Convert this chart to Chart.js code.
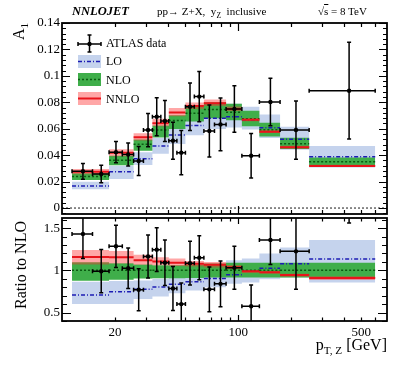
<!DOCTYPE html>
<html>
<head>
<meta charset="utf-8">
<script src="https://cdn.jsdelivr.net/npm/chart.js"></script>
<style>
    body { margin: 0; background: #fff; }
    #wrap { position: relative; width: 407px; height: 365px; font-family: 'Liberation Serif', 'Times New Roman', serif; color: #000; overflow: hidden; }
    canvas { position: absolute; left: 0; top: 0; }
    .t { position: absolute; white-space: nowrap; line-height: 1; }
    .t sub { font-size: 70%; vertical-align: -0.35em; line-height: 0; }
    .rot { transform: rotate(-90deg); transform-origin: left top; }
</style>
</head>
<body>
<div id="wrap">
    <canvas id="upper" width="407" height="365"></canvas>
    <canvas id="lower" width="407" height="365"></canvas>
    <canvas id="legendKeys" width="26" height="80" style="left:77px;top:32px;"></canvas>

    <div class="t" style="left:72px;top:5px;font-size:12.5px;font-weight:bold;font-style:italic;">NNLOJET</div>
    <div class="t" style="left:157px;top:6px;font-size:11px;">pp&#8594; Z+X,&nbsp; y<sub>Z</sub>&nbsp; inclusive</div>
    <div class="t" style="left:318px;top:6px;font-size:11px;">&#8730;<span style="text-decoration:overline">s</span> = 8 TeV</div>

    <div class="t rot" style="left:11px;top:40px;font-size:16px;">A<sub>1</sub></div>
    <div class="t rot" style="left:13px;top:309px;font-size:16px;">Ratio to NLO</div>
    <div class="t" style="right:20px;top:337px;font-size:16px;">p<sub>T, Z</sub> [GeV]</div>

    <div class="t" style="left:106px;top:37px;font-size:12px;">ATLAS data</div>
    <div class="t" style="left:106px;top:55px;font-size:12px;">LO</div>
    <div class="t" style="left:106px;top:74px;font-size:12px;">NLO</div>
    <div class="t" style="left:106px;top:93px;font-size:12px;">NNLO</div>
</div>

<script>
// ATLAS bins and measured A1
const dataEdges = [11.4, 14.9, 18.5, 22, 25.5, 29, 32.6, 36.4, 40.4, 44.9, 50.2, 56.4, 63.9, 73.4, 85.4, 105, 132, 173, 253, 600];
const dataPt = [13.15, 16.7, 20.25, 23.75, 27.25, 30.8, 34.5, 38.4, 42.65, 47.55, 53.3, 60.15, 68.65, 79.4, 95.2, 118.5, 152.5, 213, 426.5];
const atlasA1 = [0.0278, 0.0258, 0.0423, 0.0405, 0.0356, 0.059, 0.0691, 0.0659, 0.051, 0.0419, 0.0767, 0.0843, 0.0583, 0.0633, 0.0749, 0.0396, 0.0802, 0.059, 0.0888];
const atlasErr = [0.006, 0.0066, 0.008, 0.0087, 0.011, 0.0126, 0.0144, 0.0155, 0.014, 0.0167, 0.018, 0.019, 0.0196, 0.02, 0.0176, 0.0168, 0.018, 0.022, 0.0366];
const atlasRatio = [1.43, 0.99, 1.285, 1.025, 0.77, 1.165, 1.245, 1.09, 0.785, 0.60, 1.085, 1.15, 0.775, 0.84, 1.03, 0.575, 1.36, 1.225, 2.5];
const atlasRatioErr = [0.29, 0.256, 0.25, 0.24, 0.25, 0.255, 0.26, 0.27, 0.26, 0.25, 0.26, 0.26, 0.265, 0.27, 0.255, 0.25, 0.29, 0.45, 0.94];

// theory bins
const theoryEdges = [11.4, 18.5, 25.5, 32.6, 40.4, 50.2, 63.9, 85.4, 105, 132, 173, 253, 600];
const lo = [0.0167, 0.0275, 0.0373, 0.0469, 0.0553, 0.0625, 0.0679, 0.069, 0.0668, 0.0608, 0.052, 0.0388];
const loDown = [0.0142, 0.022, 0.0325, 0.041, 0.0485, 0.055, 0.0598, 0.061, 0.0595, 0.053, 0.0441, 0.0307];
const loUp = [0.0199, 0.032, 0.0422, 0.053, 0.061, 0.068, 0.0745, 0.079, 0.0767, 0.0708, 0.0615, 0.047];
const nlo = [0.0238, 0.0362, 0.0482, 0.059, 0.0662, 0.0718, 0.0745, 0.0725, 0.0676, 0.0592, 0.0487, 0.035];
const nloDown = [0.0212, 0.0323, 0.0433, 0.0534, 0.0598, 0.0655, 0.068, 0.0665, 0.0618, 0.0542, 0.0446, 0.0318];
const nloUp = [0.0264, 0.0395, 0.0518, 0.0625, 0.0703, 0.0765, 0.08, 0.079, 0.0737, 0.0645, 0.0531, 0.0382];
const nnlo = [0.0275, 0.0418, 0.0535, 0.0641, 0.0722, 0.0772, 0.0792, 0.075, 0.0668, 0.0578, 0.046, 0.0318];
const nnloDown = [0.0255, 0.0392, 0.0512, 0.0618, 0.0695, 0.075, 0.0772, 0.0735, 0.0656, 0.0568, 0.0451, 0.031];
const nnloUp = [0.0295, 0.0445, 0.0565, 0.0675, 0.0757, 0.0798, 0.0822, 0.0768, 0.0682, 0.059, 0.0471, 0.0328];

// ratios to NLO
const loRatio = [0.707, 0.746, 0.775, 0.803, 0.835, 0.864, 0.904, 0.948, 0.988, 1.024, 1.077, 1.133];
const loRatioDown = [0.60, 0.60, 0.66, 0.69, 0.73, 0.76, 0.80, 0.84, 0.855, 0.895, 0.915, 0.855];
const loRatioUp = [0.865, 0.875, 0.88, 0.90, 0.92, 0.95, 1.0, 1.12, 1.14, 1.2, 1.27, 1.36];
const nloRatio = [1, 1, 1, 1, 1, 1, 1, 1, 1, 1, 1, 1];
const nloRatioDown = [0.876, 0.888, 0.903, 0.905, 0.905, 0.91, 0.915, 0.915, 0.915, 0.915, 0.915, 0.915];
const nloRatioUp = [1.097, 1.085, 1.07, 1.06, 1.06, 1.07, 1.08, 1.09, 1.09, 1.09, 1.09, 1.09];
const nnloRatio = [1.157, 1.155, 1.12, 1.105, 1.09, 1.077, 1.065, 1.036, 0.988, 0.976, 0.944, 0.908];
const nnloRatioDown = [1.07, 1.08, 1.065, 1.06, 1.05, 1.045, 1.035, 1.015, 0.97, 0.96, 0.925, 0.885];
const nnloRatioUp = [1.24, 1.23, 1.185, 1.155, 1.14, 1.11, 1.10, 1.06, 1.005, 0.99, 0.96, 0.93];

// axis ticks
const xTicks = [20, 100, 500];
const a1Ticks = [0, 0.02, 0.04, 0.06, 0.08, 0.1, 0.12, 0.14];
const ratioTicks = [0.5, 1, 1.5];

const SERIF = "'Liberation Serif', 'Times New Roman', serif";
const C = {
    loBand: '#c5d3ed', loLine: '#1c1cb4',
    nloBand: '#3fae4a', nloLine: '#0b5a12',
    nnloBand: 'rgba(255, 45, 45, 0.42)', nnloLine: '#e8141b'
};

function stepPoints(vals) {
    return theoryEdges.map((e, i) => ({ x: e, y: vals[Math.min(i, vals.length - 1)] }));
}

function segPoints(vals) {
    const pts = [];
    vals.forEach((v, i) => {
        pts.push({ x: theoryEdges[i], y: v }, { x: theoryEdges[i + 1], y: v }, { x: theoryEdges[i + 1], y: null });
    });
    return pts;
}

function band(down, up, color, order) {
    return [
        { data: stepPoints(up), stepped: true, fill: '+1', backgroundColor: color, borderColor: 'rgba(0,0,0,0)', borderWidth: 0, pointRadius: 0, order },
        { data: stepPoints(down), stepped: true, fill: false, borderColor: 'rgba(0,0,0,0)', borderWidth: 0, pointRadius: 0, order }
    ];
}

function centralLine(vals, color, dash, width, order) {
    return { data: segPoints(vals), borderColor: color, borderDash: dash, borderWidth: width, pointRadius: 0, fill: false, order };
}

function pointsSet(vals) {
    return {
        data: dataPt.map((x, i) => ({ x, y: vals[i] })),
        showLine: false, pointRadius: 2.2, pointBackgroundColor: '#000', pointBorderWidth: 0, order: 0
    };
}

const errorBarPlugin = {
    id: 'errorBars',
    afterDatasetsDraw(chart, args, o) {
        const { ctx, chartArea: a } = chart;
        const x = chart.scales.x, y = chart.scales.y;
        ctx.save();
        ctx.beginPath();
        ctx.rect(a.left, a.top, a.right - a.left, a.bottom - a.top);
        ctx.clip();
        ctx.strokeStyle = '#000';
        ctx.lineWidth = 1.5;
        o.values.forEach((v, i) => {
            const px = x.getPixelForValue(dataPt[i]);
            const py = y.getPixelForValue(v);
            const x0 = x.getPixelForValue(dataEdges[i]);
            const x1 = x.getPixelForValue(dataEdges[i + 1]);
            const y0 = y.getPixelForValue(v - o.errors[i]);
            const y1 = y.getPixelForValue(v + o.errors[i]);
            ctx.beginPath();
            ctx.moveTo(x0, py); ctx.lineTo(x1, py);
            ctx.moveTo(px, y0); ctx.lineTo(px, y1);
            ctx.moveTo(x0, py - 2); ctx.lineTo(x0, py + 2);
            ctx.moveTo(x1, py - 2); ctx.lineTo(x1, py + 2);
            ctx.moveTo(px - 2, y0); ctx.lineTo(px + 2, y0);
            ctx.moveTo(px - 2, y1); ctx.lineTo(px + 2, y1);
            ctx.stroke();
        });
        ctx.restore();
    }
};

const framePlugin = {
    id: 'frame',
    afterDraw(chart, args, o) {
        const { ctx, chartArea: a } = chart;
        const x = chart.scales.x, y = chart.scales.y;
        ctx.save();
        ctx.strokeStyle = '#000';
        ctx.lineWidth = 1.2;
        ctx.beginPath();
        const yTick = (v, len) => {
            const p = Math.round(y.getPixelForValue(v)) + 0.5;
            ctx.moveTo(a.left, p); ctx.lineTo(a.left + len, p);
            ctx.moveTo(a.right, p); ctx.lineTo(a.right - len, p);
        };
        const xTick = (v, len) => {
            const p = Math.round(x.getPixelForValue(v)) + 0.5;
            ctx.moveTo(p, a.bottom); ctx.lineTo(p, a.bottom - len);
            ctx.moveTo(p, a.top); ctx.lineTo(p, a.top + len);
        };
        o.yMajor.forEach(v => yTick(v, o.yMajorLen));
        o.yMinor.forEach(v => yTick(v, o.yMinorLen));
        [100].forEach(v => xTick(v, o.xMajorLen));
        [20, 30, 40, 50, 60, 70, 80, 90, 200, 300, 400, 500, 600].forEach(v => xTick(v, o.xMinorLen));
        ctx.stroke();
        ctx.lineWidth = 1.8;
        ctx.strokeRect(a.left, a.top, a.right - a.left, a.bottom - a.top);
        ctx.restore();
    }
};

function minorTicks(step, from, to, every) {
    const out = [];
    for (let k = from; k <= to; k++) {
        if (k % every !== 0) out.push(+(k * step).toFixed(4));
    }
    return out;
}

function makeChart(id, cfg) {
    return new Chart(document.getElementById(id), {
        type: 'line',
        data: { datasets: cfg.datasets },
        options: {
            responsive: false,
            animation: false,
            devicePixelRatio: 1,
            layout: { padding: cfg.padding },
            plugins: {
                legend: { display: false },
                tooltip: { enabled: false },
                errorBars: { values: cfg.points, errors: cfg.errors },
                frame: cfg.frame
            },
            scales: {
                x: {
                    type: 'logarithmic', min: 10, max: 700,
                    display: cfg.showX,
                    grid: { display: false, drawTicks: false }, border: { display: false },
                    afterBuildTicks: s => { s.ticks = xTicks.map(v => ({ value: v })); },
                    afterFit: s => { s.height = cfg.showX ? 44 : 0; },
                    ticks: { autoSkip: false, maxRotation: 0, padding: 4, color: '#000',
                             font: { family: SERIF, size: 13 }, callback: v => String(v) }
                },
                y: {
                    type: 'linear', min: cfg.yMin, max: cfg.yMax,
                    grid: { display: false, drawTicks: false }, border: { display: false },
                    afterBuildTicks: s => { s.ticks = cfg.yTicks.map(v => ({ value: v })); },
                    afterFit: s => { s.width = 62; },
                    ticks: { padding: 2, color: '#000', font: { family: SERIF, size: 13 },
                             callback: v => String(+v.toFixed(2)) }
                }
            }
        },
        plugins: [errorBarPlugin, framePlugin]
    });
}

Chart.defaults.font.family = SERIF;

// upper panel: A1
makeChart('upper', {
    padding: { left: 0, right: 20, top: 23, bottom: 151 },
    showX: false,
    yMin: -0.0045, yMax: 0.14, yTicks: a1Ticks,
    points: atlasA1, errors: atlasErr,
    frame: { yMajor: a1Ticks, yMinor: minorTicks(0.004, -1, 35, 5), yMajorLen: 8, yMinorLen: 4, xMajorLen: 8, xMinorLen: 4 },
    datasets: [
        pointsSet(atlasA1),
        centralLine(nnlo, C.nnloLine, [], 2, 1),
        centralLine(nlo, C.nloLine, [2, 2], 1.5, 2),
        centralLine(lo, C.loLine, [4, 2, 1, 2], 1.5, 3),
        { data: [{ x: 10, y: 0 }, { x: 700, y: 0 }], borderColor: '#666', borderDash: [2, 2], borderWidth: 1.5, pointRadius: 0, order: 4 },
        ...band(nnloDown, nnloUp, C.nnloBand, 5),
        ...band(nloDown, nloUp, C.nloBand, 6),
        ...band(loDown, loUp, C.loBand, 7)
    ]
});

// lower panel: ratio to NLO
makeChart('lower', {
    padding: { left: 0, right: 20, top: 218, bottom: 0 },
    showX: true,
    yMin: 0.4, yMax: 1.62, yTicks: ratioTicks,
    points: atlasRatio, errors: atlasRatioErr,
    frame: { yMajor: ratioTicks, yMinor: minorTicks(0.1, 4, 16, 5), yMajorLen: 9, yMinorLen: 5, xMajorLen: 6, xMinorLen: 3.5 },
    datasets: [
        pointsSet(atlasRatio),
        centralLine(nnloRatio, C.nnloLine, [], 2, 1),
        centralLine(nloRatio, C.nloLine, [2, 2], 1.5, 2),
        centralLine(loRatio, C.loLine, [4, 2, 1, 2], 1.5, 3),
        ...band(nnloRatioDown, nnloRatioUp, C.nnloBand, 5),
        ...band(nloRatioDown, nloRatioUp, C.nloBand, 6),
        ...band(loRatioDown, loRatioUp, C.loBand, 7)
    ]
});

// legend keys
(function drawKeys() {
    const ctx = document.getElementById('legendKeys').getContext('2d');
    ctx.strokeStyle = '#000';
    ctx.lineWidth = 1.5;
    ctx.beginPath();
    ctx.moveTo(1, 12); ctx.lineTo(24, 12);
    ctx.moveTo(12.5, 3); ctx.lineTo(12.5, 20);
    ctx.moveTo(10.5, 3); ctx.lineTo(14.5, 3);
    ctx.moveTo(10.5, 20); ctx.lineTo(14.5, 20);
    ctx.moveTo(1, 10); ctx.lineTo(1, 14);
    ctx.moveTo(24, 10); ctx.lineTo(24, 14);
    ctx.stroke();
    ctx.fillStyle = '#000';
    ctx.beginPath(); ctx.arc(12.5, 12, 2.2, 0, Math.PI * 2); ctx.fill();

    const key = (top, fill, line, dash, width) => {
        ctx.fillStyle = fill;
        ctx.fillRect(1, top, 23, 13);
        ctx.strokeStyle = line;
        ctx.lineWidth = width;
        ctx.setLineDash(dash);
        ctx.beginPath();
        ctx.moveTo(1, top + 6.5); ctx.lineTo(24, top + 6.5);
        ctx.stroke();
        ctx.setLineDash([]);
    };
    key(23, C.loBand, C.loLine, [4, 2, 1, 2], 1.5);
    key(41, C.nloBand, C.nloLine, [2, 2], 1.5);
    key(60, C.nnloBand, C.nnloLine, [], 2);
})();
</script>
</body>
</html>
